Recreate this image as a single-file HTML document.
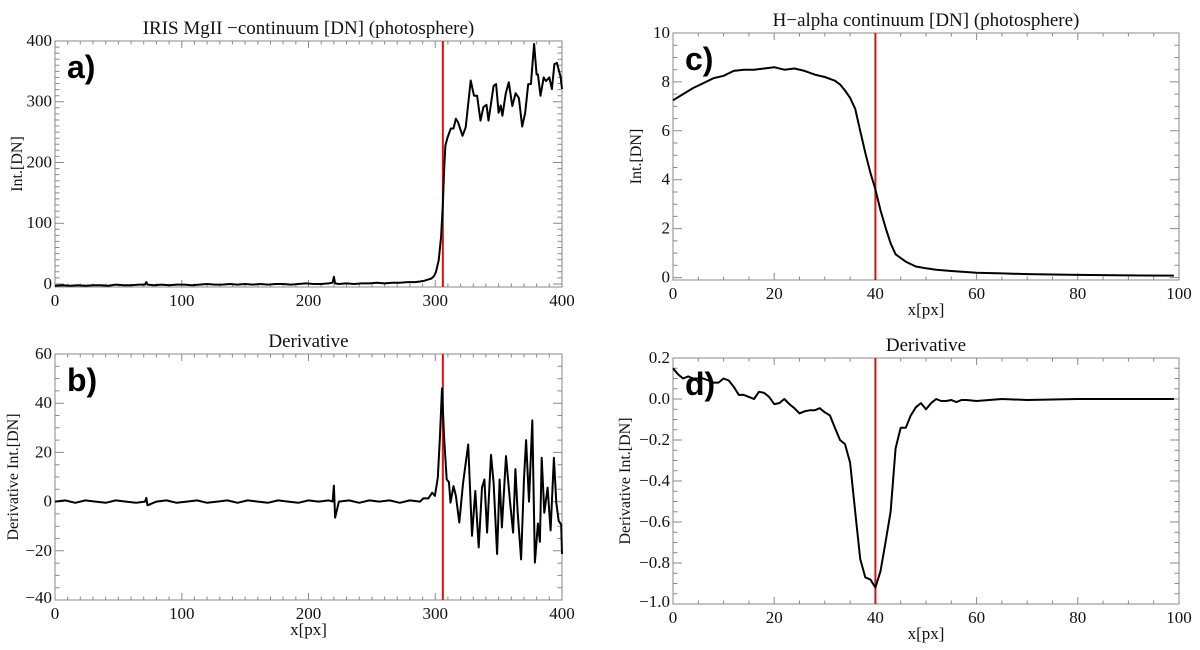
<!DOCTYPE html>
<html><head><meta charset="utf-8">
<style>
html,body{margin:0;padding:0;background:#fff;}
svg{display:block;}
svg text{font-family:"Liberation Serif",serif;fill:#111;}
svg text.lbl{font-family:"Liberation Sans",sans-serif;font-weight:bold;font-size:32px;fill:#000;}
</style></head>
<body>
<svg id="fig" width="1200" height="650" viewBox="0 0 1200 650" xmlns="http://www.w3.org/2000/svg"></svg>
<script>
// ---- Panel a data (IRIS MgII continuum) ----
const aX = [0,6,12,18,24,30,36,42,48,54,60,66,71,72,73,78,84,90,96,102,108,114,120,126,132,138,144,150,156,162,168,174,180,186,192,198,204,210,216,219,220,221,224,230,236,242,248,254,260,266,272,278,284,288,291,294,297,299,300.6,302.7,304.6,306,307,308,309.7,312.3,314.4,316.3,318,321.5,324,328,330.6,333,335.7,338,340.4,342,346,348,350,351.6,353,355.6,358,360.8,363.4,366,368.6,371,373.3,375.5,378,380,381,383,385.6,387.4,390,392,394,396,399,400];
const aY = [-3,-2,-3,-2,-3,-2,-2,-3,-1,-2,-2,-1,-1,3,-1,-2,-1,-2,-1,-1,-2,-1,0,-1,-1,0,-1,0,-1,0,-1,0,0,-1,0,1,0,0,1,2,12,1,0,1,0,1,1,2,1,2,2,3,3,4,5,7,9,13,20,39,78,133,187,228,241,256,256,272,266,244,258,335,310,310,269,291,295,269,326,329,282,294,277,313,332,293,314,306,259,282,329,329,395,345,345,310,340,334,340,321,362,364,340,321];
// ---- Panel b data (derivative of a) ----
const bX = [0,8,16,24,32,40,48,56,64,71,72,73,80,88,96,104,112,120,128,136,144,152,160,168,176,184,192,200,208,216,219,220,221,224,232,240,248,256,264,272,280,288,290.6,294.5,297.6,299.7,302,303.7,305.3,307,309,310.8,312,314.4,316.3,319,322,326,329,331.6,334.3,336.9,338.8,340.9,344,346,348.8,350.8,352.6,355.8,359,361.4,363.2,365,367.7,370,371.7,374,376.6,378.6,381,382.6,384,386,388.6,391,393.6,395.5,397.4,399.4,400];
const bY = [0,0.5,-0.5,0.5,0,-0.5,0.5,0,-0.5,0,1.5,-1.5,0,0.5,-0.5,0,0.5,-0.5,0,0.5,-0.5,0.5,0,-0.5,0.5,0,-0.5,0.5,0,0.5,0,6.5,-6.5,0,0.5,-0.5,0.5,0,0.5,-0.5,0.5,0,1.3,1.3,3.6,2.3,9.7,26,46,26,9,8,-0.4,6.3,2.3,-8.5,7.7,23.2,-13.9,4.3,-18.6,5.7,9,-12.6,19,7.7,-21.3,9,-10.5,18.5,0,-12.6,13.2,-4,-23.5,9.3,25,0,33,-24.8,-8.9,-16.4,17.8,-4.5,5.7,-11.7,17.8,-0.5,-7.9,-9.3,-21.3];
// ---- Panel c data (H-alpha continuum) ----
const cX = [0,2,4,6,8,10,12,14,16,18,20,22,24,26,28,30,32,33,34,35,36,37,38,39,40,41,42,43,44,45,46,47,48,50,52,55,60,65,70,80,90,99];
const cY = [7.25,7.5,7.75,7.95,8.15,8.25,8.45,8.5,8.5,8.55,8.6,8.5,8.55,8.45,8.3,8.2,8.05,7.9,7.65,7.35,6.9,6.0,5.1,4.3,3.6,2.75,2.05,1.4,0.95,0.8,0.65,0.55,0.45,0.38,0.32,0.27,0.2,0.17,0.14,0.11,0.09,0.08];
// ---- Panel d data (derivative of c) ----
const dX = [0,1,2,3,4,5,6,7,8,9,10,11,12,13,14,15,16,17,18,19,20,21,22,23,24,25,26,27,28,29,30,31,32,33,34,35,36,37,38,39,40,41,42,43,44,45,46,47,48,49,50,51,52,53,54,55,56,57,58,60,65,70,80,90,99];
const dY = [0.15,0.12,0.1,0.11,0.1,0.1,0.1,0.09,0.08,0.08,0.1,0.09,0.06,0.02,0.02,0.01,0.0,0.035,0.03,0.01,-0.025,-0.02,0.0,-0.025,-0.045,-0.07,-0.06,-0.055,-0.055,-0.045,-0.065,-0.08,-0.14,-0.2,-0.22,-0.31,-0.55,-0.78,-0.87,-0.88,-0.92,-0.84,-0.7,-0.55,-0.24,-0.14,-0.14,-0.08,-0.04,-0.02,-0.05,-0.02,0.0,-0.01,-0.01,-0.005,-0.015,-0.005,-0.005,-0.01,0.0,-0.005,0.0,0.0,0.0];
// ---- Tick labels ----
const aYTicks = [0,100,200,300,400];
const abXTicks = [0,100,200,300,400];
const bYTicks = [-40,-20,0,20,40,60];
const cYTicks = [0,2,4,6,8,10];
const cdXTicks = [0,20,40,60,80,100];
const dYTicks = [-1.0,-0.8,-0.6,-0.4,-0.2,0.0,0.2];
const markA = 306, markC = 40;

const NS = "http://www.w3.org/2000/svg";
const SERIF = '"Liberation Serif", "Times New Roman", serif';
const svg = document.getElementById('fig');
function mk(tag, attrs, parent){
  const e = document.createElementNS(NS, tag);
  for (const k in attrs) e.setAttribute(k, attrs[k]);
  (parent||svg).appendChild(e);
  return e;
}
function panel(o){
  const g = mk('g', {});
  
  
  const sx = v => o.L + (v - o.x0) / (o.x1 - o.x0) * (o.R - o.L);
  const sy = v => o.B - (v - o.y0) / (o.y1 - o.y0) * (o.B - o.T);
  const tk = mk('path', {d:'', stroke:'#8a8a8a', 'stroke-width':1, fill:'none'}, g);
  
  
  let d = `M${o.L},${o.T}H${o.R}V${o.B}H${o.L}Z`;
  for (let v = o.x0; v <= o.x1 + 1e-9; v += o.xm) {
    const X = sx(v).toFixed(1);
    const maj = Math.abs(Math.round(v / o.xM) * o.xM - v) < 1e-6;
    const l = maj ? 7 : 3.5;
    d += `M${X},${o.B}v${-l}M${X},${o.T}v${l}`;
  }
  let ys = Math.ceil((o.y0 - 1e-9) / o.ym) * o.ym;
  for (let v = ys; v <= o.y1 + 1e-9; v += o.ym) {
    const Y = sy(v).toFixed(1);
    const maj = Math.abs(Math.round(v / o.yM) * o.yM - v) < 1e-6;
    const l = maj ? 9 : 4.5;
    d += `M${o.L},${Y}h${l}M${o.R},${Y}h${-l}`;
  }
  tk.setAttribute('d', d);
  o.xt.forEach(v => {
    const t = mk('text', {x: sx(v), y: o.B + 19, 'font-size': 17, 'text-anchor': 'middle', 'font-family': SERIF}, g);
    t.textContent = v;
    
    
  });
  o.yt.forEach(v => {
    let Y = sy(v) + 5;
    if (v === o.y0) Y -= 2;
    const t = mk('text', {x: o.L - 3, y: Y, 'font-size': 17, 'text-anchor': 'end', 'font-family': SERIF}, g);
    t.textContent = (o.fmt ? v.toFixed(o.fmt) : String(v)).replace('-', '\u2212');
    
    
  });
  const rl = mk('line', {x1: sx(o.mark), x2: sx(o.mark), y1: o.T, y2: o.B, stroke: '#e01010', 'stroke-width': 2}, g);
  
  
  let p = '';
  o.xs.forEach((v, i) => { p += (i ? 'L' : 'M') + sx(v).toFixed(1) + ',' + sy(o.ys[i]).toFixed(1); });
  const ln = mk('path', {d: p, stroke: '#000', 'stroke-width': 2, fill: 'none', 'stroke-linejoin': 'round'}, g);
  
  
  const ti = mk('text', {x: (o.L + o.R) / 2, y: o.T - 7, 'font-size': 19, 'text-anchor': 'middle', 'font-family': SERIF}, g);
  ti.textContent = o.title;
  
  
  const yl = mk('text', {x: 0, y: 0, 'font-size': 16, 'text-anchor': 'middle', 'font-family': SERIF, transform: `translate(${o.ylx},${(o.T + o.B) / 2}) rotate(-90)`}, g);
  yl.textContent = o.ylabel;
  
  
  if (o.xlabel) {
    const xl = mk('text', {x: (o.L + o.R) / 2, y: o.B + 35, 'font-size': 17, 'text-anchor': 'middle', 'font-family': SERIF}, g);
    xl.textContent = o.xlabel;
    
    
  }
  const lt = mk('text', {x: o.L + 12, y: o.T + 37, class: 'lbl', 'font-family': '"Liberation Sans", sans-serif', 'font-weight': 'bold', 'font-size': 32}, g);
  lt.textContent = o.letter;
  
  
}
panel({name:'panel-a', L:55, R:562, T:41, B:287, x0:0, x1:400, y0:-5, y1:400, xm:10, xM:100, ym:10, yM:100,
  xt:abXTicks, yt:aYTicks, xs:aX, ys:aY, mark:markA, title:'IRIS MgII \u2212continuum [DN] (photosphere)', ylabel:'Int.[DN]', ylx:22, letter:'a)'});
panel({name:'panel-b', L:55, R:562, T:354, B:600, x0:0, x1:400, y0:-40, y1:60, xm:10, xM:100, ym:5, yM:20,
  xt:abXTicks, yt:bYTicks, xs:bX, ys:bY, mark:markA, title:'Derivative', ylabel:'Derivative Int.[DN]', ylx:18, xlabel:'x[px]', letter:'b)'});
panel({name:'panel-c', L:673, R:1179, T:33, B:280, x0:0, x1:100, y0:-0.1, y1:10, xm:5, xM:20, ym:0.5, yM:2,
  xt:cdXTicks, yt:cYTicks, xs:cX, ys:cY, mark:markC, title:'H\u2212alpha continuum [DN] (photosphere)', ylabel:'Int.[DN]', ylx:641, xlabel:'x[px]', letter:'c)'});
panel({name:'panel-d', L:673, R:1179, T:358, B:604, x0:0, x1:100, y0:-1.0, y1:0.2, xm:5, xM:20, ym:0.05, yM:0.2,
  xt:cdXTicks, yt:dYTicks, xs:dX, ys:dY, mark:markC, fmt:1, title:'Derivative', ylabel:'Derivative Int.[DN]', ylx:630, xlabel:'x[px]', letter:'d)'});
</script>
</body></html>
